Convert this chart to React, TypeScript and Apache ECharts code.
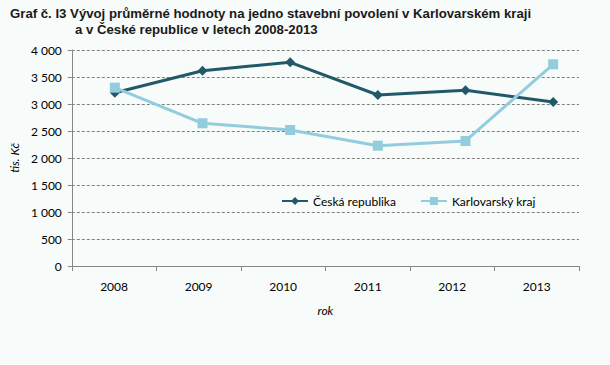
import React, { useEffect, useRef } from "react";
import * as echarts from "echarts";

const years = ["2008", "2009", "2010", "2011", "2012", "2013"];
const ceskaRepublika = [3209, 3617, 3772, 3167, 3254, 3037];
const karlovarskyKraj = [3302, 2643, 2519, 2228, 2315, 3735];
const yTicks = [0, 500, 1000, 1500, 2000, 2500, 3000, 3500, 4000];

const titleLine1 = "Graf č. I3 Vývoj průměrné hodnoty na jedno stavební povolení v Karlovarském kraji";
const titleLine2 = "a v České republice v letech 2008-2013";

const fmt = (v: number) => {
  const s = String(v);
  return s.length > 3 ? s.slice(0, s.length - 3) + " " + s.slice(-3) : s;
};

export default function App() {
  const ref = useRef<HTMLDivElement>(null);
  useEffect(() => {
    if (!ref.current) return;
    const chart = echarts.init(ref.current, null, { renderer: "svg" });
    const labelFont = "Lato, 'Open Sans', sans-serif";
    const titleStyle = { fontFamily: "'Liberation Sans', Arial, sans-serif", fontSize: 13.2, fontWeight: "bold", color: "#1a1a1a" };
    chart.setOption({
      animation: false,
      backgroundColor: "#f7fbf9",
      title: [
        { text: titleLine1, left: 5, top: 2, textStyle: titleStyle },
        { text: titleLine2, left: 70, top: 18, textStyle: titleStyle },
      ],
      legend: {
        left: 276,
        top: 190,
        itemWidth: 26,
        itemHeight: 10,
        itemGap: 24,
        textStyle: { fontFamily: labelFont, fontSize: 12, color: "#000" },
        data: ["Česká republika", "Karlovarský kraj"],
      },
      grid: [
        { left: 71, right: 31, top: 50, bottom: 99 },
        { left: 71, right: 13, top: 50, bottom: 99 },
      ],
      xAxis: [
        {
          gridIndex: 0,
          type: "category",
          data: years,
          boundaryGap: true,
          name: "rok",
          nameLocation: "middle",
          nameGap: 38,
          nameTextStyle: { fontFamily: labelFont, fontSize: 12, fontStyle: "italic", color: "#000" },
          axisLine: { lineStyle: { color: "#868686", width: 1 } },
          axisTick: { show: true, alignWithLabel: false, length: 5, lineStyle: { color: "#868686" } },
          axisLabel: { fontFamily: labelFont, fontSize: 12, color: "#000", margin: 14 },
        },
        {
          gridIndex: 1,
          type: "category",
          data: years,
          boundaryGap: true,
          show: false,
        },
      ],
      yAxis: [
        {
          gridIndex: 0,
          type: "value",
          min: 0,
          max: 4000,
          interval: 500,
          name: "tis. Kč",
          nameLocation: "middle",
          nameGap: 49,
          nameTextStyle: { fontFamily: labelFont, fontSize: 12, fontStyle: "italic", color: "#000" },
          axisLine: { show: true, lineStyle: { color: "#868686", width: 1 } },
          axisTick: { show: true, length: 4, lineStyle: { color: "#868686" } },
          axisLabel: {
            fontFamily: labelFont,
            fontSize: 12,
            color: "#000",
            margin: 10,
            formatter: (v: number) => (yTicks.includes(v) ? fmt(v) : ""),
          },
          splitLine: { show: true, lineStyle: { color: "#808080", type: [3, 2], width: 1 } },
        },
        {
          gridIndex: 1,
          type: "value",
          min: 0,
          max: 4000,
          show: false,
          splitLine: { show: false },
        },
      ],
      series: [
        {
          name: "Česká republika",
          type: "line",
          xAxisIndex: 1,
          yAxisIndex: 1,
          data: ceskaRepublika,
          symbol: "diamond",
          symbolSize: 10,
          color: "#215968",
          lineStyle: { width: 3, color: "#215968" },
          itemStyle: { color: "#215968" },
          z: 2,
        },
        {
          name: "Karlovarský kraj",
          type: "line",
          xAxisIndex: 1,
          yAxisIndex: 1,
          data: karlovarskyKraj,
          symbol: "rect",
          symbolSize: 10,
          color: "#93cddd",
          lineStyle: { width: 3, color: "#93cddd" },
          itemStyle: { color: "#93cddd" },
          z: 3,
        },
      ],
    });
    return () => chart.dispose();
  }, []);
  return (
    <div
      ref={ref}
      style={{ position: "fixed", left: 0, top: 0, width: 610, height: 365 }}
    />
  );
}
